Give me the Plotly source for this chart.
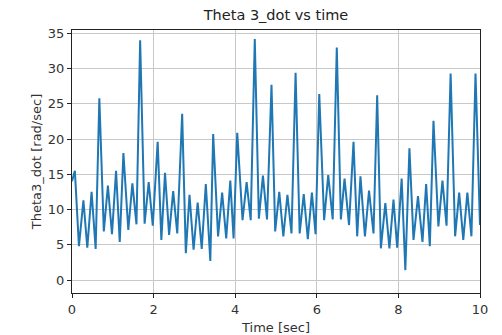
import plotly.graph_objects as go

# Angular velocity of link 3 sampled at its turning points
time_s = [0.00, 0.07, 0.17, 0.28, 0.375, 0.48, 0.58, 0.67, 0.78, 0.88,
          0.98, 1.08, 1.17, 1.26, 1.38, 1.48, 1.58, 1.67, 1.78, 1.88,
          1.98, 2.10, 2.19, 2.28, 2.38, 2.48, 2.58, 2.70, 2.79, 2.88,
          2.98, 3.08, 3.18, 3.28, 3.39, 3.46, 3.58, 3.68, 3.78, 3.88,
          3.96, 4.05, 4.18, 4.28, 4.38, 4.48, 4.58, 4.68, 4.78, 4.89,
          4.98, 5.08, 5.18, 5.28, 5.38, 5.48, 5.58, 5.68, 5.78, 5.88,
          5.97, 6.06, 6.18, 6.28, 6.39, 6.49, 6.59, 6.68, 6.79, 6.90,
          6.99, 7.07, 7.18, 7.28, 7.39, 7.48, 7.57, 7.68, 7.78, 7.88,
          7.97, 8.08, 8.17, 8.27, 8.37, 8.48, 8.59, 8.68, 8.77, 8.86,
          8.98, 9.08, 9.18, 9.28, 9.39, 9.49, 9.59, 9.69, 9.79, 9.89,
          10.0]
theta3_dot = [14.0, 15.5, 4.8, 11.3, 4.6, 12.5, 4.4, 25.8, 6.9, 13.4,
              6.5, 15.5, 5.4, 18.0, 7.1, 13.7, 7.9, 34.0, 8.0, 13.9,
              7.7, 19.6, 5.7, 15.2, 6.4, 12.6, 6.6, 23.6, 3.8, 12.1,
              4.3, 11.0, 4.4, 13.6, 2.7, 20.7, 6.2, 12.4, 5.9, 14.1,
              5.9, 20.9, 8.5, 13.9, 8.5, 34.2, 8.7, 14.8, 8.6, 27.7,
              6.9, 12.5, 6.2, 12.1, 6.6, 29.4, 6.6, 12.2, 5.8, 12.4,
              6.5, 26.4, 8.5, 14.9, 8.6, 33.0, 8.6, 14.4, 7.8, 19.6,
              6.2, 14.7, 6.2, 12.7, 6.6, 26.2, 4.5, 10.9, 4.5, 11.4,
              4.6, 14.4, 1.4, 18.7, 5.7, 11.9, 5.4, 13.6, 4.8, 22.6,
              7.6, 14.1, 7.7, 29.3, 6.2, 12.4, 5.7, 12.4, 6.2, 29.3,
              7.8]

x_ticks = [0, 2, 4, 6, 8, 10]
y_ticks = [0, 5, 10, 15, 20, 25, 30, 35]

FONT = "DejaVu Sans"
TEXT = "#333333"

fig = go.Figure(go.Scatter(
    x=time_s, y=theta3_dot, mode="lines",
    line=dict(color="#1f77b4", width=2),
))

axis_common = dict(
    showline=True, mirror=True, linecolor="#222222", linewidth=1,
    ticks="outside", ticklen=4, tickcolor="#222222", tickwidth=1,
    showgrid=True, gridcolor="#c8c8c8", gridwidth=1,
    zeroline=False, automargin=False,
    tickfont=dict(family=FONT, size=13, color=TEXT),
)

fig.update_xaxes(
    range=[0, 10], tickvals=x_ticks, ticklabelstandoff=0,
    title=dict(text="Time [sec]", font=dict(family=FONT, size=13, color=TEXT), standoff=7),
    **axis_common,
)
fig.update_yaxes(
    range=[-1.84, 35.47], tickvals=y_ticks,
    title=dict(text="Theta3_dot [rad/sec]", font=dict(family=FONT, size=13, color=TEXT), standoff=3),
    **axis_common,
)

fig.update_layout(
    width=502, height=335,
    margin=dict(l=72, r=22, t=30, b=42),
    paper_bgcolor="white", plot_bgcolor="white",
    showlegend=False,
    title=dict(text="Theta 3_dot vs time", x=0.5, xref="paper", xanchor="center",
               y=1 - 15 / 335, yanchor="middle",
               font=dict(family=FONT, size=14.5, color="#222222")),
)

fig.write_html("out.html")
